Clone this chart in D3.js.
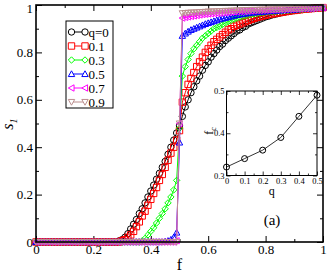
<!DOCTYPE html>
<html>
<head>
<meta charset="utf-8">
<script src="https://d3js.org/d3.v7.min.js"></script>
<style>
  body { margin: 0; background: #fff; }
</style>
</head>
<body>
<script>
// x grid of the main panel (f = 0, 0.01, ... 1)
var fGrid = d3.range(101).map(function (i) { return i / 100; });

// s1, one value per f in fGrid
var s1_q0 = [
  0,0,0,0,0,0,0,0,0,0,
  0,0,0,0,0,0,0,0,0,0,
  0,0,0,0,0,0,0,0,0,0.005,
  0.01,0.02,0.035,0.055,0.075,0.095,0.12,0.14,0.165,0.19,
  0.215,0.24,0.265,0.29,0.315,0.34,0.37,0.40,0.43,0.46,
  0.49,0.53,0.57,0.60,0.63,0.655,0.68,0.70,0.725,0.745,
  0.76,0.78,0.795,0.81,0.825,0.835,0.85,0.86,0.87,0.88,
  0.89,0.895,0.905,0.91,0.92,0.925,0.93,0.935,0.94,0.945,
  0.95,0.953,0.957,0.96,0.963,0.966,0.969,0.971,0.973,0.975,
  0.977,0.979,0.98,0.982,0.983,0.984,0.985,0.986,0.987,0.988,
  0.989];
var s1_q1 = [
  0,0,0,0,0,0,0,0,0,0,
  0,0,0,0,0,0,0,0,0,0,
  0,0,0,0,0,0,0,0,0,0,
  0.005,0.01,0.02,0.03,0.045,0.065,0.085,0.11,0.13,0.155,
  0.18,0.205,0.23,0.26,0.285,0.315,0.345,0.375,0.40,0.43,
  0.47,0.59,0.63,0.665,0.69,0.715,0.74,0.76,0.78,0.80,
  0.815,0.83,0.845,0.855,0.865,0.875,0.885,0.895,0.90,0.91,
  0.915,0.92,0.925,0.93,0.935,0.94,0.944,0.948,0.951,0.954,
  0.957,0.96,0.962,0.964,0.966,0.968,0.97,0.972,0.974,0.976,
  0.977,0.979,0.98,0.982,0.983,0.984,0.985,0.986,0.987,0.988,
  0.989];
var s1_q3 = [
  0,0,0,0,0,0,0,0,0,0,
  0,0,0,0,0,0,0,0,0,0,
  0,0,0,0,0,0,0,0,0,0,
  0,0,0,0,0,0,0,0.005,0.015,0.03,
  0.045,0.06,0.08,0.10,0.12,0.14,0.165,0.19,0.22,0.26,
  0.48,0.70,0.74,0.77,0.795,0.815,0.83,0.845,0.86,0.87,
  0.88,0.89,0.90,0.905,0.91,0.918,0.924,0.93,0.935,0.94,
  0.944,0.948,0.951,0.954,0.957,0.96,0.962,0.964,0.966,0.968,
  0.97,0.971,0.972,0.973,0.974,0.975,0.976,0.977,0.977,0.978,
  0.979,0.98,0.981,0.982,0.983,0.984,0.985,0.986,0.987,0.988,
  0.989];
var s1_q5 = [
  0,0,0,0,0,0,0,0,0,0,
  0,0,0,0,0,0,0,0,0,0,
  0,0,0,0,0,0,0,0,0,0,
  0,0,0,0,0,0,0,0,0,0,
  0,0,0,0,0,0.002,0.005,0.01,0.02,0.04,
  0.42,0.87,0.88,0.888,0.895,0.90,0.905,0.91,0.915,0.92,
  0.924,0.928,0.932,0.936,0.94,0.943,0.946,0.949,0.952,0.955,
  0.958,0.96,0.962,0.964,0.966,0.968,0.969,0.97,0.971,0.972,
  0.973,0.974,0.975,0.976,0.977,0.977,0.978,0.979,0.979,0.98,
  0.981,0.982,0.983,0.984,0.985,0.986,0.986,0.987,0.988,0.988,
  0.989];
var s1_q7 = [
  0,0,0,0,0,0,0,0,0,0,
  0,0,0,0,0,0,0,0,0,0,
  0,0,0,0,0,0,0,0,0,0,
  0,0,0,0,0,0,0,0,0,0,
  0,0,0,0,0,0,0,0,0,0.005,
  0.5,0.945,0.948,0.95,0.952,0.954,0.956,0.958,0.96,0.961,
  0.962,0.963,0.964,0.965,0.966,0.967,0.968,0.969,0.97,0.971,
  0.972,0.973,0.973,0.974,0.975,0.975,0.976,0.977,0.977,0.978,
  0.978,0.979,0.979,0.98,0.98,0.981,0.981,0.982,0.982,0.983,
  0.983,0.984,0.984,0.985,0.985,0.986,0.986,0.987,0.988,0.988,
  0.989];
var s1_q9 = [
  0,0,0,0,0,0,0,0,0,0,
  0,0,0,0,0,0,0,0,0,0,
  0,0,0,0,0,0,0,0,0,0,
  0,0,0,0,0,0,0,0,0,0,
  0,0,0,0,0,0,0,0,0,0,
  0.5,0.965,0.966,0.967,0.968,0.968,0.969,0.97,0.97,0.971,
  0.972,0.972,0.973,0.973,0.974,0.974,0.975,0.975,0.976,0.976,
  0.977,0.977,0.978,0.978,0.978,0.979,0.979,0.979,0.98,0.98,
  0.98,0.981,0.981,0.981,0.982,0.982,0.982,0.983,0.983,0.983,
  0.984,0.984,0.985,0.985,0.986,0.986,0.987,0.987,0.988,0.988,
  0.989];

var qLabels = ["q=0", "0.1", "0.3", "0.5", "0.7", "0.9"];
var seriesValues = [s1_q0, s1_q1, s1_q3, s1_q5, s1_q7, s1_q9];
var seriesColors = ["#000000", "#ff0000", "#00ff00", "#0000ff", "#ff00ff", "#bc8f8f"];
var seriesMarkers = ["circle", "square", "diamond", "up", "left", "down"];

// inset: f_c against q
var qInset = [0, 0.1, 0.2, 0.3, 0.4, 0.5];
var fcInset = [0.32, 0.34, 0.36, 0.39, 0.44, 0.49];

var mainTicks = [0, 0.2, 0.4, 0.6, 0.8, 1];
var mainMinor = [0.1, 0.3, 0.5, 0.7, 0.9];
var insetXTicks = [0, 0.1, 0.2, 0.3, 0.4, 0.5];
var insetYTicks = [0.3, 0.4, 0.5];

var SERIF = "'Liberation Serif', 'Times New Roman', 'DejaVu Serif', serif";
var W = 327, H = 273;
var svg = d3.select("body").append("svg").attr("width", W).attr("height", H)
  .style("font-family", SERIF);

function marker(type, r) {
  switch (type) {
    case "circle": return "M" + r + ",0A" + r + "," + r + " 0 1,1 " + (-r) + ",0A" + r + "," + r + " 0 1,1 " + r + ",0Z";
    case "square": return "M" + (-r) + "," + (-r) + "H" + r + "V" + r + "H" + (-r) + "Z";
    case "diamond": return "M0," + (-r) + "L" + r + ",0L0," + r + "L" + (-r) + ",0Z";
    case "up": return "M0," + (-r) + "L" + r + "," + (r * 0.8) + "L" + (-r) + "," + (r * 0.8) + "Z";
    case "down": return "M0," + r + "L" + r + "," + (-r * 0.8) + "L" + (-r) + "," + (-r * 0.8) + "Z";
    case "left": return "M" + (-r) + ",0L" + (r * 0.8) + "," + (-r) + "L" + (r * 0.8) + "," + r + "Z";
  }
}

// ---- main panel
var x = d3.scaleLinear().domain([0, 1]).range([36, 323]);
var y = d3.scaleLinear().domain([0, 1]).range([242, 5]);
var fmt = d3.format("");

function styleAxis(g) {
  g.attr("font-family", null);
  g.select(".domain").remove();
  g.selectAll("line").attr("stroke", "#000").attr("stroke-width", 1);
  g.selectAll("text").style("font-size", "13px").attr("fill", "#000");
}

svg.append("g").attr("transform", "translate(0,242)")
  .call(d3.axisBottom(x).tickValues(mainTicks).tickSize(-6).tickPadding(3).tickFormat(fmt)).call(styleAxis);
svg.append("g").attr("transform", "translate(0,242)")
  .call(d3.axisBottom(x).tickValues(mainMinor).tickSize(-3).tickFormat("")).call(styleAxis);
svg.append("g").attr("transform", "translate(0,5)")
  .call(d3.axisTop(x).tickValues(mainTicks).tickSize(-6).tickFormat("")).call(styleAxis);
svg.append("g").attr("transform", "translate(0,5)")
  .call(d3.axisTop(x).tickValues(mainMinor).tickSize(-3).tickFormat("")).call(styleAxis);
var yAxisG = svg.append("g").attr("transform", "translate(36,0)")
  .call(d3.axisLeft(y).tickValues(mainTicks).tickSize(-6).tickPadding(3).tickFormat(fmt)).call(styleAxis);
svg.append("g").attr("transform", "translate(36,0)")
  .call(d3.axisLeft(y).tickValues(mainMinor).tickSize(-3).tickFormat("")).call(styleAxis);
svg.append("g").attr("transform", "translate(323,0)")
  .call(d3.axisRight(y).tickValues(mainTicks).tickSize(-6).tickFormat("")).call(styleAxis);
svg.append("g").attr("transform", "translate(323,0)")
  .call(d3.axisRight(y).tickValues(mainMinor).tickSize(-3).tickFormat("")).call(styleAxis);

// the top "1" label sits at the very edge, nudge it down a little
yAxisG.selectAll(".tick text").filter(function (d) { return d === 1; }).attr("dy", "0.6em");

// curves
var line = d3.line().x(function (d) { return x(d[0]); }).y(function (d) { return y(d[1]); });
seriesValues.forEach(function (vals, k) {
  var pts = fGrid.map(function (f, i) { return [f, vals[i]]; });
  var g = svg.append("g");
  g.append("path").datum(pts).attr("d", line)
    .attr("fill", "none").attr("stroke", seriesColors[k]).attr("stroke-width", 1);
  g.selectAll("path.m").data(pts).enter().append("path").attr("class", "m")
    .attr("transform", function (d) { return "translate(" + x(d[0]) + "," + y(d[1]) + ")"; })
    .attr("d", marker(seriesMarkers[k], 3.2))
    .attr("fill", "none").attr("stroke", seriesColors[k]).attr("stroke-width", 1);
});

// frame
svg.append("rect").attr("x", 36).attr("y", 5).attr("width", 287).attr("height", 237)
  .attr("fill", "none").attr("stroke", "#000").attr("stroke-width", 1.6);

// axis titles
svg.append("text").attr("x", x(0.5)).attr("y", 270).attr("text-anchor", "middle")
  .style("font-size", "16px").text("f");
var st = svg.append("text").attr("transform", "translate(13,124) rotate(-90)")
  .attr("text-anchor", "middle").style("font-size", "16px").style("font-style", "italic");
st.append("tspan").text("s");
st.append("tspan").attr("dy", 4).style("font-size", "11px").text("1");

// legend
var lg = svg.append("g");
lg.append("rect").attr("x", 66).attr("y", 21).attr("width", 47).attr("height", 87)
  .attr("fill", "#fff").attr("stroke", "#000").attr("stroke-width", 1);
qLabels.forEach(function (lab, k) {
  var yy = 32 + k * 14;
  lg.append("line").attr("x1", 71.5).attr("x2", 85).attr("y1", yy).attr("y2", yy)
    .attr("stroke", seriesColors[k]).attr("stroke-width", 1);
  [71.5, 85].forEach(function (xx) {
    lg.append("path").attr("transform", "translate(" + xx + "," + yy + ")")
      .attr("d", marker(seriesMarkers[k], 3.2)).attr("fill", "#fff")
      .attr("stroke", seriesColors[k]).attr("stroke-width", 1);
  });
  lg.append("text").attr("x", 88.5).attr("y", yy + 4.5).style("font-size", "13px").text(lab);
});

// ---- inset
var xi = d3.scaleLinear().domain([0, 0.5]).range([226.5, 317]);
var yi = d3.scaleLinear().domain([0.3, 0.5]).range([175.5, 91]);
var insetMinorX = [0.05, 0.15, 0.25, 0.35, 0.45];
var insetMinorY = [0.35, 0.45];

function styleInset(g) {
  g.attr("font-family", null);
  g.select(".domain").remove();
  g.selectAll("line").attr("stroke", "#000").attr("stroke-width", 0.8);
  g.selectAll("text").style("font-size", "8.5px").attr("fill", "#000");
}
svg.append("g").attr("transform", "translate(0,175.5)")
  .call(d3.axisBottom(xi).tickValues(insetXTicks).tickSize(-4).tickPadding(2).tickFormat(fmt)).call(styleInset);
svg.append("g").attr("transform", "translate(0,175.5)")
  .call(d3.axisBottom(xi).tickValues(insetMinorX).tickSize(-2).tickFormat("")).call(styleInset);
svg.append("g").attr("transform", "translate(0,91)")
  .call(d3.axisTop(xi).tickValues(insetXTicks).tickSize(-4).tickFormat("")).call(styleInset);
svg.append("g").attr("transform", "translate(0,91)")
  .call(d3.axisTop(xi).tickValues(insetMinorX).tickSize(-2).tickFormat("")).call(styleInset);
svg.append("g").attr("transform", "translate(226.5,0)")
  .call(d3.axisLeft(yi).tickValues(insetYTicks).tickSize(-4).tickPadding(2).tickFormat(fmt)).call(styleInset);
svg.append("g").attr("transform", "translate(226.5,0)")
  .call(d3.axisLeft(yi).tickValues(insetMinorY).tickSize(-2).tickFormat("")).call(styleInset);
svg.append("g").attr("transform", "translate(317,0)")
  .call(d3.axisRight(yi).tickValues(insetYTicks).tickSize(-4).tickFormat("")).call(styleInset);
svg.append("g").attr("transform", "translate(317,0)")
  .call(d3.axisRight(yi).tickValues(insetMinorY).tickSize(-2).tickFormat("")).call(styleInset);

svg.append("rect").attr("x", 226.5).attr("y", 91).attr("width", 90.5).attr("height", 84.5)
  .attr("fill", "none").attr("stroke", "#000").attr("stroke-width", 1);

var ipts = qInset.map(function (q, i) { return [q, fcInset[i]]; });
var iline = d3.line().x(function (d) { return xi(d[0]); }).y(function (d) { return yi(d[1]); });
svg.append("path").datum(ipts).attr("d", iline).attr("fill", "none")
  .attr("stroke", "#000").attr("stroke-width", 0.8);
svg.selectAll("circle.inset").data(ipts).enter().append("circle").attr("class", "inset")
  .attr("cx", function (d) { return xi(d[0]); }).attr("cy", function (d) { return yi(d[1]); })
  .attr("r", 3).attr("fill", "none").attr("stroke", "#000").attr("stroke-width", 1);

svg.append("text").attr("x", xi(0.25)).attr("y", 195).attr("text-anchor", "middle")
  .style("font-size", "12px").text("q");
var fc = svg.append("text").attr("transform", "translate(213,131) rotate(-90)")
  .attr("text-anchor", "middle").style("font-size", "12px");
fc.append("tspan").text("f");
fc.append("tspan").attr("dy", 3).style("font-size", "8px").text("c");

svg.append("text").attr("x", 272).attr("y", 225).attr("text-anchor", "middle")
  .style("font-size", "15px").text("(a)");

svg.selectAll("text").style("font-family", SERIF);
</script>
</body>
</html>
